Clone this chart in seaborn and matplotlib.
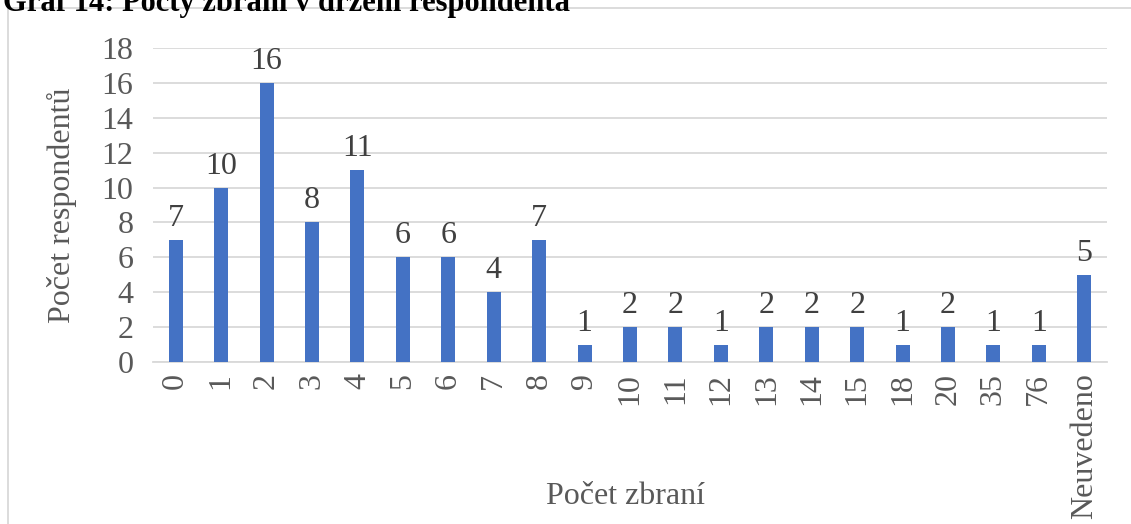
import matplotlib
matplotlib.use("Agg")
import matplotlib.pyplot as plt
import seaborn as sns
import pandas as pd
from matplotlib.patches import Rectangle

categories = ["0", "1", "2", "3", "4", "5", "6", "7", "8", "9", "10", "11", "12",
              "13", "14", "15", "18", "20", "35", "76", "Neuvedeno"]
counts = [7, 10, 16, 8, 11, 6, 6, 4, 7, 1, 2, 2, 1, 2, 2, 2, 1, 2, 1, 1, 5]
yticks = [0, 2, 4, 6, 8, 10, 12, 14, 16, 18]

df = pd.DataFrame({"zbrane": categories, "pocet": counts})

sns.set_theme(style="white")
plt.rcParams["font.family"] = ["Liberation Serif", "DejaVu Serif"]

W, H = 1131, 524
fig = plt.figure(figsize=(W / 100, H / 100), dpi=100)
ax = fig.add_axes([153 / W, 1 - 362 / H, (1107 - 153) / W, (362 - 48) / H])

sns.barplot(data=df, x="zbrane", y="pocet", color="#4472c4", width=0.31,
            saturation=1, linewidth=0, ax=ax, zorder=3)

ax.set_ylim(0, 18)
ax.set_yticks(yticks)
ax.set_xlim(-0.5, len(categories) - 0.5)
ax.yaxis.grid(True, color="#d9d9d9", linewidth=1.3, zorder=0)
for s in ["top", "right", "left"]:
    ax.spines[s].set_visible(False)
ax.spines["bottom"].set_color("#d9d9d9")
ax.spines["bottom"].set_linewidth(1.3)
ax.tick_params(axis="both", length=0, labelsize=23, colors="#595959")
ax.tick_params(axis="y", pad=14)
ax.tick_params(axis="x", pad=8)
plt.setp(ax.get_xticklabels(), rotation=90)

for i, v in enumerate(counts):
    ax.text(i, v + 0.4, str(v), ha="center", va="bottom", fontsize=23, color="#404040")

ax.set_xlabel("")
ax.set_ylabel("Počet respondentů", fontsize=23, color="#595959", labelpad=18)
fig.text(625 / W, 1 - 497 / H, "Počet zbraní", ha="center", va="center",
         fontsize=23, color="#595959")

# chart frame
fig.patches.append(Rectangle((8 / W, -0.1), 1.2, 1 - 8 / H + 0.1, transform=fig.transFigure,
                             fill=False, edgecolor="#d9d9d9", linewidth=1.3))

# title cut off at the top, as in the source
fig.text(3 / W, 1 - 3 / H, "Graf 14: Počty zbraní v držení respondenta", ha="left",
         va="center", fontsize=22, fontweight="bold", color="black")

fig.savefig("out.png", dpi=100)
